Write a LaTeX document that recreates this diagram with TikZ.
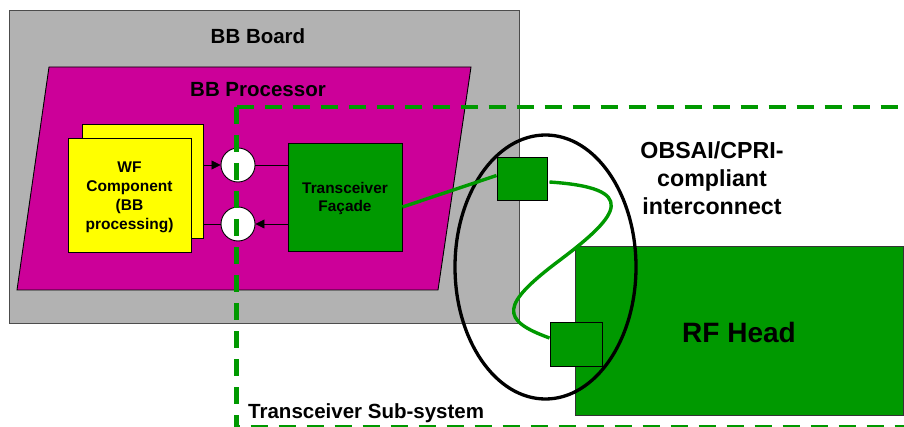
\documentclass[tikz,border=0pt]{standalone}
\usepackage{fontspec}
\setmainfont{Liberation Sans}
\usepackage{tikz}
\usetikzlibrary{arrows.meta}
\definecolor{boardgray}{RGB}{178,178,178}
\definecolor{procmagenta}{RGB}{204,0,153}
\definecolor{wfyellow}{RGB}{255,255,0}
\definecolor{trxgreen}{RGB}{0,153,0}

\begin{document}
\begin{tikzpicture}[x=1pt,y=-1pt,
    box/.style={draw=black, line width=0.9pt, inner sep=0pt},
    txt/.style={inner sep=0pt, font=\fontsize{#1}{24}\selectfont\bfseries},
    port/.style={circle, draw=black, line width=0.9pt, fill=white, minimum size=34pt, inner sep=0pt},
    flow/.style={line width=0.8pt, -{Triangle[length=9pt,width=9pt]}}]
    \useasboundingbox (0,0) rectangle (904,427);
    \draw[fill=boardgray, draw=black!70, line width=0.9pt] (9,10) rectangle (519,323); % the board
    \node[txt=20.5] (board) at (258,35.7) {BB Board};
    \draw[fill=procmagenta, line width=0.9pt] (49,67) -- (471,67) -- (438,290) -- (17,290) -- cycle;
    \node[txt=20.5] (proc) at (258,89.7) {BB Processor};
    \node[box, fill=wfyellow, minimum width=121pt, minimum height=114pt] (wfback) at (142.5,181) {};
    \node[box, fill=wfyellow, minimum width=123pt, minimum height=114pt] (wf) at (129.5,195) {};
    \node[inner sep=0pt, align=center, font=\fontsize{15.5}{19}\selectfont\bfseries] (wftext) at (129.5,197.5)
        {WF\\Component\\(BB\\processing)};
    \node[port] (inport) at (238,165) {};
    \node[port] (outport) at (238,224) {};
    \node[box, fill=trxgreen, minimum width=114pt, minimum height=108pt] (facade) at (345,197) {};
    \node[inner sep=0pt, align=center, font=\fontsize{15.4}{18}\selectfont\bfseries] (facadetext) at (345,199)
        {Transceiver\\Fa\c{c}ade};
    \draw[flow] (wfback.east |- inport) -- (inport.west);
    \draw[line width=0.8pt] (inport.east) -- (facade.west |- inport);
    \draw[flow] (facade.west |- outport) -- (outport.east);
    \draw[line width=0.8pt] (outport.west) -- (wfback.east |- outport);
    % the sub-system border
    \coordinate (corner) at (236.5,107);
    \draw[trxgreen, line width=4.5pt, dash pattern=on 17pt off 11pt] (corner) -- (910,107);
    \draw[trxgreen, line width=4.5pt, dash pattern=on 17pt off 11pt] (corner) -- (236.5,432);
    \draw[trxgreen, line width=4.5pt, dash pattern=on 17pt off 11pt, dash phase=-14pt] (236.5,427.5) -- (910,427.5);
    \node[txt=20.5, anchor=base west] (subsys) at (248,418) {Transceiver Sub-system};
    % the radio head
    \node[box, fill=trxgreen, line width=0.8pt, draw=black!80, minimum width=328pt, minimum height=169pt] (rfhead) at (739,330.5) {};
    \node[txt=28] (rftext) at (739,332) {RF Head};
    \draw[line width=3.3pt] (545.5,267) ellipse [x radius=90.5pt, y radius=132pt];
    \node[box, fill=trxgreen, minimum width=50pt, minimum height=43pt] (linka) at (522,178.5) {};
    \node[box, fill=trxgreen, minimum width=52pt, minimum height=44pt] (linkb) at (576,344) {};
    \draw[trxgreen, line width=3.4pt] ([yshift=-10pt]facade.east) -- ([yshift=3pt]linka.west);
    \draw[trxgreen, line width=3.4pt] ([xshift=2pt,yshift=-3.5pt]linka.east) .. controls (640,188) and (620,215) .. (560,260)
        .. controls (500,305) and (500,320) .. ([yshift=6pt]linkb.west);
    \node[inner sep=0pt, align=center, font=\fontsize{23.2}{28}\selectfont\bfseries] (obsai) at (712,178)
        {OBSAI/CPRI-\\compliant\\interconnect};
\end{tikzpicture}
\end{document}
